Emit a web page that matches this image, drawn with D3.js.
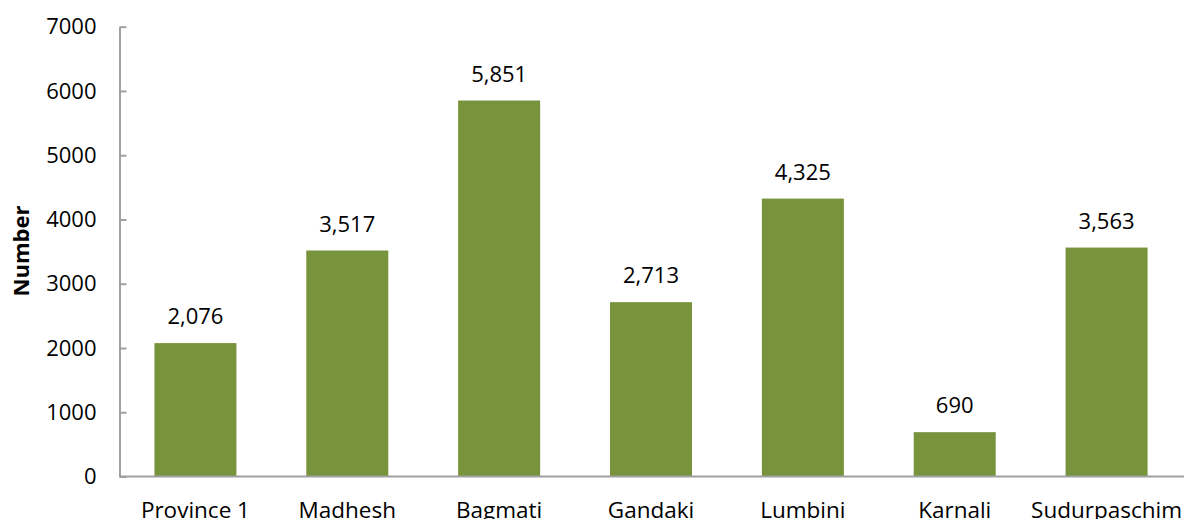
<!DOCTYPE html>
<html><head><meta charset="utf-8">
<script src="https://cdn.jsdelivr.net/npm/d3@7"></script>
<style>
html,body{margin:0;padding:0;background:#fff;overflow:hidden;}
text{font-family:"Open Sans","Noto Sans",sans-serif;}
</style></head>
<body>
<svg id="c" width="1184" height="519"></svg>
<script>
const categories = ["Province 1","Madhesh","Bagmati","Gandaki","Lumbini","Karnali","Sudurpaschim"];
const values = [2076,3517,5851,2713,4325,690,3563];
const yTicks = [0,1000,2000,3000,4000,5000,6000,7000];
const yTitle = "Number";

const svg = d3.select("#c");
const x = d3.scaleBand().domain(categories).range([119.5,1182.5]).paddingInner(0.46).paddingOuter(0.23);
const y = d3.scaleLinear().domain([0,7000]).range([476.5,26.7]);
const axisColor = "#a0a0a0";

// y axis
const ya = svg.append("g").attr("transform","translate(119.5,0)")
  .call(d3.axisLeft(y).tickValues(yTicks).tickFormat(d3.format("d")).tickSize(-7).tickSizeOuter(0).tickPadding(23));
ya.select(".domain").attr("stroke",axisColor).attr("stroke-width",2);
ya.selectAll(".tick line").attr("stroke",axisColor).attr("stroke-width",2);
ya.selectAll(".tick text").attr("fill","#000").style("font-size","22px");

// bars
svg.append("g").selectAll("rect").data(values).join("rect")
  .attr("x",(d,i)=>x(categories[i]))
  .attr("width",x.bandwidth())
  .attr("y",d=>y(d))
  .attr("height",d=>y(0)-y(d))
  .attr("fill","#77933c");

// x axis
const xa = svg.append("g").attr("transform","translate(0,476.5)")
  .call(d3.axisBottom(x).tickSize(0).tickSizeOuter(0).tickPadding(26));
xa.select(".domain").attr("stroke",axisColor).attr("stroke-width",2).attr("d","M119.5,0H1184");
xa.selectAll(".tick text").attr("fill","#000").style("font-size","22.5px").attr("dy","0.71em");

// value labels
svg.append("g").selectAll("text").data(values).join("text")
  .attr("x",(d,i)=>x(categories[i])+x.bandwidth()/2)
  .attr("y",d=>y(d)-19)
  .attr("text-anchor","middle")
  .style("font-size","22px")
  .text(d=>d3.format(",")(d));

// y title
svg.append("text")
  .attr("transform","translate(29,251) rotate(-90)")
  .attr("text-anchor","middle")
  .style("font-size","22px").style("font-weight","bold")
  .text(yTitle);
</script>
</body></html>
